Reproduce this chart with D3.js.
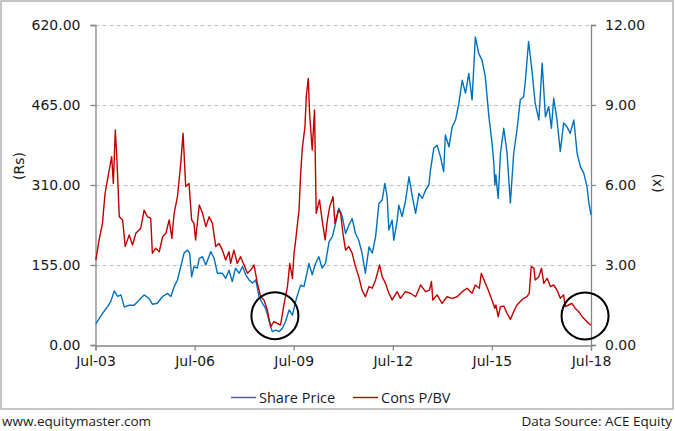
<!DOCTYPE html>
<html><head><meta charset="utf-8">
<script src="https://cdn.jsdelivr.net/npm/d3@7"></script>
<style>
html,body{margin:0;padding:0;background:#fff;}
svg{display:block;font-family:"Open Sans",sans-serif;}
</style></head>
<body><svg id="chart" width="675" height="431"></svg>
<script>
// ---- Data (decimal years) ----
const priceDates = [2003.51,2003.71,2003.86,2003.96,2004.07,2004.17,2004.27,2004.37,2004.52,2004.67,2004.82,2004.97,2005.12,2005.22,2005.37,2005.53,2005.68,2005.78,2005.88,2005.98,2006.08,2006.18,2006.28,2006.35,2006.41,2006.48,2006.58,2006.64,2006.74,2006.84,2006.99,2007.09,2007.19,2007.34,2007.44,2007.54,2007.64,2007.74,2007.85,2007.95,2008.05,2008.15,2008.25,2008.35,2008.45,2008.55,2008.65,2008.75,2008.85,2008.95,2009.06,2009.15,2009.25,2009.36,2009.46,2009.58,2009.71,2009.81,2009.91,2009.96,2010.06,2010.16,2010.26,2010.36,2010.46,2010.57,2010.67,2010.77,2010.87,2010.97,2011.07,2011.17,2011.27,2011.37,2011.47,2011.57,2011.67,2011.78,2011.88,2011.98,2012.08,2012.18,2012.26,2012.33,2012.38,2012.48,2012.53,2012.63,2012.68,2012.78,2012.88,2012.99,2013.09,2013.19,2013.29,2013.39,2013.49,2013.59,2013.64,2013.74,2013.84,2013.94,2014.04,2014.09,2014.20,2014.30,2014.40,2014.50,2014.60,2014.70,2014.80,2014.90,2015.00,2015.10,2015.20,2015.30,2015.41,2015.50,2015.56,2015.59,2015.62,2015.69,2015.76,2015.86,2015.96,2016.06,2016.16,2016.26,2016.36,2016.46,2016.51,2016.61,2016.71,2016.81,2016.92,2017.02,2017.12,2017.22,2017.30,2017.37,2017.47,2017.57,2017.67,2017.77,2017.87,2017.98,2018.08,2018.18,2018.28,2018.38,2018.43,2018.50];
const sharePrice = [41,61,74,84,105,94,97,74,77,77,87,97,90,79,81,94,100,94,113,126,152,178,184,178,132,152,149,168,171,155,181,168,139,139,129,145,123,149,139,152,136,126,120,126,94,81,71,48,26,29,26,32,45,68,58,90,116,113,142,158,136,158,171,149,158,200,210,236,265,249,216,232,245,216,203,178,139,190,178,210,274,281,313,287,223,242,203,240,271,249,278,326,287,255,294,284,300,310,339,381,387,365,336,407,384,423,436,468,513,488,526,475,597,565,552,520,442,394,352,310,330,284,371,420,371,275,371,417,475,481,510,588,533,468,436,546,442,462,420,478,436,375,430,423,410,436,371,345,333,307,278,252];

const pbvDates = [2003.51,2003.61,2003.71,2003.79,2003.89,2003.99,2004.04,2004.10,2004.14,2004.22,2004.32,2004.40,2004.52,2004.62,2004.72,2004.87,2004.97,2005.07,2005.17,2005.22,2005.32,2005.43,2005.53,2005.63,2005.73,2005.81,2005.88,2005.98,2006.08,2006.15,2006.23,2006.33,2006.41,2006.48,2006.53,2006.64,2006.74,2006.84,2006.94,2007.04,2007.14,2007.24,2007.34,2007.44,2007.54,2007.59,2007.69,2007.79,2007.89,2008.00,2008.10,2008.20,2008.30,2008.40,2008.50,2008.60,2008.70,2008.80,2008.90,2009.00,2009.10,2009.21,2009.31,2009.38,2009.46,2009.51,2009.56,2009.66,2009.71,2009.76,2009.84,2009.88,2009.94,2009.98,2010.06,2010.13,2010.18,2010.28,2010.36,2010.45,2010.52,2010.59,2010.69,2010.75,2010.85,2010.92,2010.99,2011.07,2011.17,2011.27,2011.37,2011.47,2011.57,2011.67,2011.78,2011.88,2011.98,2012.10,2012.18,2012.28,2012.38,2012.48,2012.63,2012.73,2012.88,2013.03,2013.19,2013.34,2013.49,2013.61,2013.67,2013.71,2013.84,2013.99,2014.14,2014.30,2014.45,2014.60,2014.75,2014.90,2015.00,2015.12,2015.18,2015.28,2015.41,2015.50,2015.59,2015.62,2015.69,2015.76,2015.86,2015.96,2016.06,2016.16,2016.26,2016.36,2016.46,2016.56,2016.63,2016.69,2016.77,2016.81,2016.92,2017.00,2017.07,2017.17,2017.27,2017.37,2017.47,2017.57,2017.67,2017.72,2017.82,2017.92,2018.02,2018.13,2018.23,2018.33,2018.43,2018.50];
const consPBV = [3.19,3.94,4.56,5.69,6.38,7.06,6.06,8.06,7.19,4.81,4.69,3.69,4.13,3.75,4.19,4.38,5.06,4.81,4.75,3.44,3.63,3.50,4.06,4.19,4.69,4.00,4.94,5.56,6.81,7.94,5.94,6.06,4.69,4.56,3.94,5.25,4.94,4.44,4.81,4.56,3.69,3.81,3.56,3.19,3.50,3.06,3.56,3.06,3.31,3.00,2.69,2.81,3.00,2.31,1.81,1.69,1.31,0.69,0.88,0.81,0.75,1.56,2.19,3.06,2.50,3.44,3.94,5.06,6.44,7.38,8.19,9.31,10.00,8.69,7.31,8.81,4.94,5.44,4.69,3.94,4.69,5.19,5.56,4.56,5.06,4.94,4.19,3.56,3.69,3.44,2.94,2.56,2.06,1.81,2.19,2.13,2.44,3.00,2.56,2.31,1.94,1.69,2.00,1.75,2.00,1.94,1.81,2.25,2.00,2.06,2.38,1.69,1.88,1.56,1.81,1.75,1.81,2.00,2.13,1.94,2.25,2.13,2.69,2.38,2.00,1.69,1.38,1.50,1.06,1.44,1.46,1.19,0.96,1.25,1.50,1.63,1.75,1.81,1.94,2.94,2.88,2.44,2.56,2.88,2.31,2.50,2.19,2.25,2.06,1.75,1.88,1.44,1.50,1.56,1.38,1.25,1.06,0.94,0.81,0.75];

const leftTicks = [0,155,310,465,620];
const rightTicks = [0,3,6,9,12];
const xTickYears = [2003.5,2006.5,2009.5,2012.5,2015.5,2018.5];
const seriesNames = ["Share Price","Cons P/BV"];
const seriesColors = ["#0070C0","#C00000"];
// annotation circles (date, P/BV level)
const noteDates = [2008.93, 2018.32];
const noteLevels = [1.1, 1.09];

// ---- helpers ----
function toDate(dy){
  const y = Math.floor(dy), f = dy - y;
  const a = new Date(y,0,1).getTime(), b = new Date(y+1,0,1).getTime();
  return new Date(a + f*(b-a));
}

const svg = d3.select("#chart");
const M = {left:95.5, right:591, top:25, bottom:345};
const tickFont = "DejaVu Sans";

svg.append("rect").attr("x",1).attr("y",1).attr("width",672).attr("height",408)
  .attr("fill","#fff").attr("stroke","#8c8c8c").attr("stroke-width",1);

const x = d3.scaleTime().domain([toDate(2003.5), toDate(2018.5)]).range([M.left, M.right]);
const yL = d3.scaleLinear().domain([0,620]).range([M.bottom, M.top]);
const yR = d3.scaleLinear().domain([0,12]).range([M.bottom, M.top]);

// gridlines
svg.append("g").selectAll("line").data(leftTicks.slice(1)).join("line")
  .attr("x1",M.left).attr("x2",M.right)
  .attr("y1",d=>yL(d)+0.5).attr("y2",d=>yL(d)+0.5)
  .attr("stroke","#BFBFBF").attr("stroke-dasharray","4,3").attr("stroke-width",1);

const axisColor = "#868686";
const fmt2 = d3.format(".2f");

const gL = svg.append("g").attr("transform",`translate(${M.left},0)`)
  .call(d3.axisLeft(yL).tickValues(leftTicks).tickFormat(fmt2).tickSize(5).tickPadding(10));
const gR = svg.append("g").attr("transform",`translate(${M.right},0)`)
  .call(d3.axisRight(yR).tickValues(rightTicks).tickFormat(fmt2).tickSize(5).tickPadding(9));
const gB = svg.append("g").attr("transform",`translate(0,${M.bottom+0.5})`)
  .call(d3.axisBottom(x).tickValues(xTickYears.map(toDate)).tickFormat(d3.timeFormat("%b-%y")).tickSize(5).tickPadding(6));

[gL,gR,gB].forEach(g=>{
  g.select(".domain").attr("stroke",axisColor).attr("stroke-width",1.3);
  g.selectAll(".tick line").attr("stroke",axisColor).attr("stroke-width",1.3);
  g.selectAll("text").attr("fill","#1a1a1a").attr("font-size","14px").attr("font-family",tickFont);
});

// axis titles
svg.append("text").attr("transform","translate(24,166) rotate(-90)")
  .attr("text-anchor","middle").attr("font-size","14px").attr("font-family",tickFont).attr("fill","#1a1a1a").text("(Rs)");
svg.append("text").attr("transform","translate(653,183) rotate(90)")
  .attr("text-anchor","middle").attr("font-size","14px").attr("font-family",tickFont).attr("fill","#1a1a1a").text("(x)");

// lines
const priceData = priceDates.map((d,i)=>({d:toDate(d), v:sharePrice[i]}));
const pbvData = pbvDates.map((d,i)=>({d:toDate(d), v:consPBV[i]}));

svg.append("path").datum(priceData)
  .attr("fill","none").attr("stroke",seriesColors[0]).attr("stroke-width",1.4).attr("stroke-linejoin","round")
  .attr("d", d3.line().x(p=>x(p.d)).y(p=>yL(p.v)));
svg.append("path").datum(pbvData)
  .attr("fill","none").attr("stroke",seriesColors[1]).attr("stroke-width",1.4).attr("stroke-linejoin","round")
  .attr("d", d3.line().x(p=>x(p.d)).y(p=>yR(p.v)));

// annotation circles
svg.append("g").selectAll("circle").data(noteDates).join("circle")
  .attr("cx",(d)=>x(toDate(d))).attr("cy",(d,i)=>yR(noteLevels[i])).attr("r",23.5)
  .attr("fill","none").attr("stroke","#000").attr("stroke-width",2);

// legend
const legX = [231, 353];
const leg = svg.append("g");
seriesNames.forEach((n,i)=>{
  leg.append("line").attr("x1",legX[i]).attr("x2",legX[i]+25).attr("y1",397.5).attr("y2",397.5)
    .attr("stroke",seriesColors[i]).attr("stroke-width",1.4);
  leg.append("text").attr("x",legX[i]+28).attr("y",402.5).attr("font-size","14.5px").attr("fill","#1a1a1a").text(n);
});

// footer
svg.append("text").attr("x",2).attr("y",426).attr("font-size","13.5px").attr("fill","#1a1a1a").text("www.equitymaster.com");
svg.append("text").attr("x",672).attr("y",426).attr("text-anchor","end").attr("font-size","13.5px").attr("fill","#1a1a1a").text("Data Source: ACE Equity");
</script>
</body></html>
